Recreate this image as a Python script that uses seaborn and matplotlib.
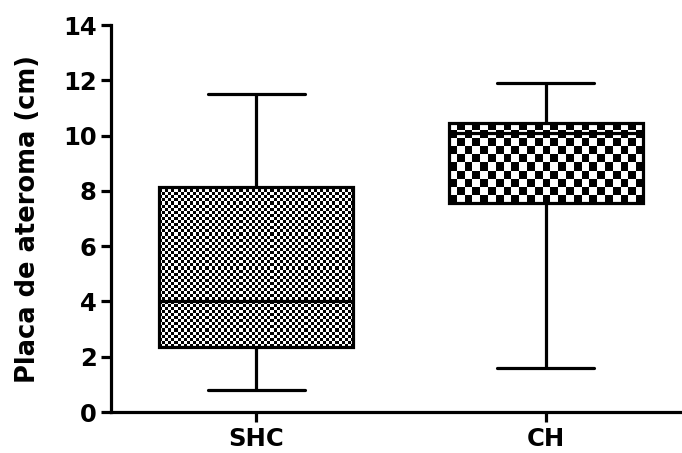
import pandas as pd
import matplotlib
matplotlib.use('Agg')
import matplotlib.pyplot as plt
import numpy as np
import seaborn as sns

# 数据: 每组的 最小值, 下四分位, 中位数, 上四分位, 最大值
groups = ['SHC', 'CH']
shc_values = [0.8, 2.35, 4.0, 8.15, 11.5]
ch_values = [1.6, 7.55, 10.1, 10.45, 11.9]
y_ticks = [0, 2, 4, 6, 8, 10, 12, 14]

df = pd.DataFrame({
    'grupo': [groups[0]] * len(shc_values) + [groups[1]] * len(ch_values),
    'valor': shc_values + ch_values,
})

sns.set_style('ticks')
plt.rcParams['font.family'] = ['DejaVu Sans']
plt.rcParams['font.weight'] = 'bold'
plt.rcParams['text.color'] = 'black'
plt.rcParams['axes.labelcolor'] = 'black'
plt.rcParams['xtick.color'] = 'black'
plt.rcParams['ytick.color'] = 'black'

fig = plt.figure(figsize=(6.82, 4.53), dpi=100)
ax = fig.add_axes([0.163, 0.0905, 0.837, 0.8543])

lw = 2.3
sns.boxplot(data=df, x='grupo', y='valor', order=groups, whis=(0, 100),
            width=0.67, color='white', linecolor='black', linewidth=lw,
            ax=ax)

# 棋盘格填充 (像素大小)
cell_px = [3.1, 7.7]
boxes = [p for p in ax.patches]
for i, patch in enumerate(boxes):
    ext = patch.get_path().get_extents()
    w_px = ext.width * 290
    h_px = ext.height * 27.64
    nx = max(int(round(w_px / cell_px[i])), 1)
    ny = max(int(round(h_px / cell_px[i])), 1)
    board = np.indices((ny, nx)).sum(axis=0) % 2
    patch.set_facecolor('none')
    im = ax.imshow(board, cmap='gray_r', vmin=0, vmax=1, interpolation='nearest',
                   extent=[ext.x0, ext.x1, ext.y0, ext.y1], aspect='auto',
                   zorder=patch.get_zorder() - 0.01)
    im.set_clip_path(patch)

ax.set_xlim(-0.5, 1.47)
ax.set_ylim(0, 14)
ax.set_yticks(y_ticks)
ax.set_xlabel('')
ax.set_ylabel('Placa de ateroma (cm)', fontsize=18.5, fontweight='bold', labelpad=16)
ax.tick_params(axis='both', width=lw, length=7, labelsize=17.5, pad=3.5)
for lab in ax.get_xticklabels() + ax.get_yticklabels():
    lab.set_fontweight('bold')
for s in ['left', 'bottom']:
    ax.spines[s].set_linewidth(lw)
    ax.spines[s].set_color('black')
sns.despine(ax=ax)

fig.savefig('out.png', dpi=100)
